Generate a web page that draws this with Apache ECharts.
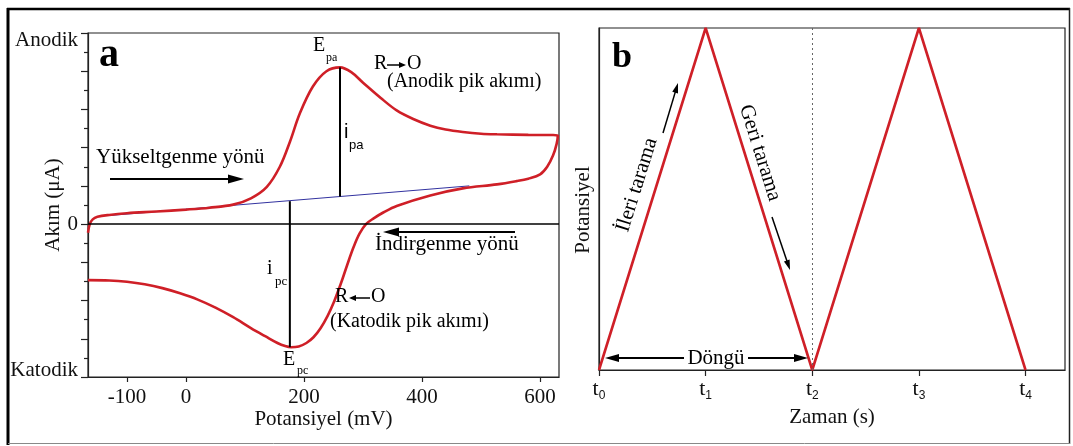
<!DOCTYPE html>
<html>
<head>
<meta charset="utf-8">
<script src="https://cdn.jsdelivr.net/npm/echarts@6/dist/echarts.min.js"></script>
<style>
html,body{margin:0;padding:0;background:#fff;}
#chart{width:1073px;height:446px;}
</style>
</head>
<body>
<div id="chart"></div>
<script>
// ---- Panel a : cyclic voltammogram (potential mV, current arbitrary µA units) ----
const cvPotential = [-166,-163,-158,-150,-130,-100,-50,0,40,80,110,137,159,176,193,215,238,261,280,300,330,357,385,414,440,469,500,527,580,620,630,
  628,622,612,600,580,560,527,469,414,357,335,318,305,294,284,273,262,251,240,228,216,204,191,178,168,155,135,110,80,50,20,-10,-40,-70,-100,-130,-166];
const cvCurrent = [-0.45,0.0,0.25,0.38,0.48,0.57,0.66,0.76,0.86,1.02,1.35,1.95,3.0,4.3,5.8,7.2,8.0,8.2,7.95,7.4,6.6,5.95,5.5,5.15,4.95,4.82,4.73,4.7,4.67,4.66,4.64,
  4.2,3.6,3.0,2.6,2.38,2.25,2.08,1.87,1.5,0.95,0.62,0.3,0.0,-0.5,-1.2,-2.15,-3.15,-4.05,-4.8,-5.45,-5.92,-6.22,-6.40,-6.44,-6.38,-6.22,-5.88,-5.44,-4.87,-4.37,-3.95,-3.62,-3.35,-3.15,-3.02,-2.95,-2.93];
const baselinePotential = [-130, 480];
const baselineCurrent = [0.45, 2.0];
const ipaPotential = [261, 261];
const ipaCurrent = [1.44, 8.2];
const ipcPotential = [176, 176];
const ipcCurrent = [1.2, -6.44];
const potentialTicks = [-100, 0, 200, 400, 600];

// ---- Panel b : triangular potential waveform ----
const scanTime = [0, 1, 2, 3, 4];
const scanPotential = [0, 1, 0, 1, 0];
const timeTicks = [0, 1, 2, 3, 4];

const SERIF = "'Liberation Serif','Times New Roman',serif";
const SANS = "'Liberation Sans',Arial,sans-serif";
const RED = '#cf1f27';

const zip = (a, b) => a.map((v, i) => [v, b[i]]);

function txt(x, y, text, size, o) {
  o = o || {};
  return {
    type: 'text', x: x, y: y, rotation: o.rot || 0, z: 50,
    style: {
      text: text, fontSize: size, fontFamily: o.family || SERIF,
      fontWeight: o.bold ? 'bold' : 'normal', fill: '#000',
      align: o.align || 'left', verticalAlign: 'middle',
      textAlign: o.align || 'left', textVerticalAlign: 'middle',
      backgroundColor: o.bg, padding: o.pad
    }
  };
}
function arrow(x1, y1, x2, y2, w, hl, hw) {
  const a = Math.atan2(y2 - y1, x2 - x1), c = Math.cos(a), s = Math.sin(a);
  const bx = x2 - hl * c, by = y2 - hl * s;
  return [
    { type: 'line', z: 50, shape: { x1: x1, y1: y1, x2: bx + c, y2: by + s }, style: { stroke: '#000', lineWidth: w } },
    { type: 'polygon', z: 50, shape: { points: [[x2, y2], [bx - hw * s, by + hw * c], [bx + hw * s, by - hw * c]] }, style: { fill: '#000' } }
  ];
}

const graphics = [].concat(
  // outer frame
  [{ type: 'line', z: 60, shape: { x1: 8, y1: 8, x2: 8, y2: 445 }, style: { stroke: '#000', lineWidth: 3 } },
   { type: 'line', z: 60, shape: { x1: 7, y1: 9, x2: 1070, y2: 9 }, style: { stroke: '#000', lineWidth: 2.5 } },
   { type: 'line', z: 60, shape: { x1: 1069.5, y1: 8, x2: 1069.5, y2: 444 }, style: { stroke: '#222', lineWidth: 1.5 } },
   { type: 'line', z: 60, shape: { x1: 8, y1: 443.5, x2: 1070, y2: 443.5 }, style: { stroke: '#888', lineWidth: 1 } }],
  // panel a texts
  [txt(99, 56, 'a', 40, { bold: true }),
   txt(313, 46, 'E', 20), txt(326, 58, 'pa', 12),
   txt(374, 64, 'R', 20), txt(407, 64, 'O', 20),
   txt(387, 82, '(Anodik pik akımı)', 20),
   txt(344, 132, 'i', 20, { family: SANS }), txt(349, 145, 'pa', 13, { family: SANS }),
   txt(96, 157, 'Yükseltgenme yönü', 21),
   txt(375, 244, 'İndirgenme yönü', 21),
   txt(267, 269, 'i', 20), txt(275, 282, 'pc', 13),
   txt(335, 297, 'R', 20), txt(371, 297, 'O', 20),
   txt(330, 322, '(Katodik pik akımı)', 20),
   txt(283, 360, 'E', 20), txt(297, 371, 'pc', 12)],
  arrow(387, 65, 406, 65, 1.5, 7, 3),
  arrow(370, 298, 349, 298, 1.5, 7, 3),
  arrow(110, 179, 244, 179, 2.2, 16, 4.5),
  arrow(515, 232, 383, 232, 2.2, 16, 4.5),
  // panel b texts
  [txt(612, 58, 'b', 36, { bold: true }),
   txt(637, 185, 'İleri tarama', 21, { align: 'center', rot: 1.267 }),
   txt(760, 153, 'Geri tarama', 21, { align: 'center', rot: -1.267 }),
   txt(716, 358, 'Döngü', 21, { align: 'center', bg: '#fff', pad: [0, 1, 0, 1] })],
  arrow(663, 133, 678, 83, 1.5, 10, 3),
  arrow(772, 217, 790, 270, 1.5, 10, 3),
  arrow(684, 358, 605, 358, 2, 14, 4),
  arrow(748, 358, 808, 358, 2, 14, 4)
);

const axisLineStyle = { color: '#222', width: 1.2 };

const option = {
  animation: false,
  backgroundColor: '#fff',
  grid: [
    { left: 88, top: 33, width: 471, height: 344, show: true, borderColor: '#222', borderWidth: 1.2, backgroundColor: 'transparent', containLabel: false, outerBoundsMode: 'none' },
    { left: 599, top: 28, width: 466, height: 342, show: true, borderColor: '#222', borderWidth: 1.2, backgroundColor: 'transparent', containLabel: false, outerBoundsMode: 'none' }
  ],
  xAxis: [
    {
      type: 'value', gridIndex: 0, min: -166, max: 632,
      name: 'Potansiyel (mV)', nameLocation: 'middle', nameGap: 32, nameMoveOverlap: false,
      nameTextStyle: { fontSize: 21, fontFamily: SERIF, color: '#111' },
      axisLine: { onZero: false, lineStyle: axisLineStyle },
      axisTick: { customValues: potentialTicks, length: 5, lineStyle: axisLineStyle },
      axisLabel: { customValues: potentialTicks, fontSize: 21, fontFamily: SERIF, color: '#111', margin: 10 },
      splitLine: { show: false }
    },
    {
      type: 'value', gridIndex: 1, min: 0, max: 4.37,
      name: 'Zaman (s)', nameLocation: 'middle', nameGap: 37, nameMoveOverlap: false,
      nameTextStyle: { fontSize: 21, fontFamily: SERIF, color: '#111' },
      axisLine: { onZero: false, lineStyle: axisLineStyle },
      axisTick: { customValues: timeTicks, length: 6, lineStyle: axisLineStyle },
      axisLabel: {
        customValues: timeTicks, margin: 8,
        formatter: v => '{t|t}{s|' + v + '}',
        rich: {
          t: { fontSize: 22, fontFamily: SERIF, color: '#111', lineHeight: 24, verticalAlign: 'top' },
          s: { fontSize: 12, fontFamily: SANS, color: '#111', lineHeight: 24, padding: [12, 0, 0, 0], verticalAlign: 'top' }
        }
      },
      splitLine: { show: false }
    }
  ],
  yAxis: [
    {
      type: 'value', gridIndex: 0, min: -8, max: 10, interval: 2,
      name: 'Akım (μA)', nameLocation: 'middle', nameGap: 24, nameMoveOverlap: false,
      nameTextStyle: { fontSize: 21, fontFamily: SERIF, color: '#111' },
      axisLine: { onZero: false, lineStyle: axisLineStyle },
      axisTick: { length: 7, lineStyle: axisLineStyle },
      minorTick: { show: true, splitNumber: 2, length: 4, lineStyle: axisLineStyle },
      axisLabel: {
        margin: 10, fontSize: 21, fontFamily: SERIF, color: '#111',
        formatter: v => v === 10 ? '{a|Anodik}' : v === 0 ? '0' : v === -8 ? '{k|Katodik}' : '',
        rich: {
          a: { fontSize: 21, fontFamily: SERIF, color: '#111', padding: [14, 0, 0, 0] },
          k: { fontSize: 21, fontFamily: SERIF, color: '#111', padding: [0, 0, 14, 0] }
        }
      },
      splitLine: { show: false }
    },
    {
      type: 'value', gridIndex: 1, min: 0, max: 1,
      name: 'Potansiyel', nameLocation: 'middle', nameGap: 5, nameMoveOverlap: false,
      nameTextStyle: { fontSize: 21, fontFamily: SERIF, color: '#111', padding: [0, 22, 0, 0] },
      axisLine: { onZero: false, lineStyle: axisLineStyle },
      axisTick: { show: false }, axisLabel: { show: false },
      splitLine: { show: false }
    }
  ],
  series: [
    {
      type: 'line', xAxisIndex: 0, yAxisIndex: 0, data: zip(baselinePotential, baselineCurrent),
      symbol: 'none', lineStyle: { color: '#3232a0', width: 1 }, z: 2,
      markLine: {
        silent: true, symbol: 'none', label: { show: false },
        lineStyle: { color: '#000', width: 1.6, type: 'solid' },
        data: [{ yAxis: 0 }]
      }
    },
    {
      type: 'line', xAxisIndex: 0, yAxisIndex: 0, data: zip(cvPotential, cvCurrent),
      smooth: 0.35, symbol: 'none', lineStyle: { color: RED, width: 2.6 }, z: 3, clip: false
    },
    {
      type: 'line', xAxisIndex: 0, yAxisIndex: 0, data: zip(ipaPotential, ipaCurrent),
      symbol: 'none', lineStyle: { color: '#000', width: 2 }, z: 4
    },
    {
      type: 'line', xAxisIndex: 0, yAxisIndex: 0, data: zip(ipcPotential, ipcCurrent),
      symbol: 'none', lineStyle: { color: '#000', width: 2 }, z: 4
    },
    {
      type: 'line', xAxisIndex: 1, yAxisIndex: 1, data: zip(scanTime, scanPotential),
      symbol: 'none', lineStyle: { color: RED, width: 2.6 }, z: 3, clip: false,
      markLine: {
        silent: true, symbol: 'none', label: { show: false },
        lineStyle: { color: '#666', width: 1, type: [2, 3] },
        data: [{ xAxis: 2 }]
      }
    }
  ],
  graphic: graphics
};

const chart = echarts.init(document.getElementById('chart'), null, { renderer: 'canvas' });
chart.setOption(option);
</script>
</body>
</html>
